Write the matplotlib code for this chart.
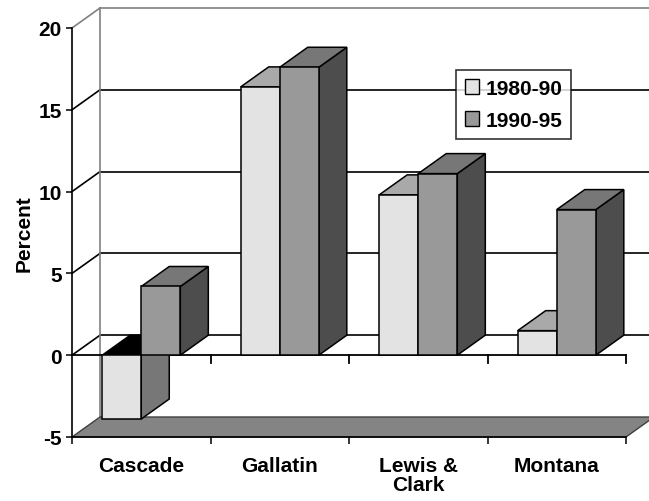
import matplotlib
matplotlib.use("Agg")
import matplotlib.pyplot as plt
from matplotlib.patches import Polygon, Rectangle, Patch

categories = ["Cascade", "Gallatin", "Lewis &\nClark", "Montana"]
series_names = ["1980-90", "1990-95"]
vals_8090 = [-3.9, 16.4, 9.8, 1.5]
vals_9095 = [4.2, 17.6, 11.1, 8.9]
yticks = [-5, 0, 5, 10, 15, 20]

plt.rcParams['font.family'] = ['Liberation Sans', 'DejaVu Sans']
plt.rcParams['font.weight'] = 'bold'
fs = 15

W, H = 649, 502
fig = plt.figure(figsize=(W / 100, H / 100), dpi=100)
# front plane of the plot: x 72..626 px, y 438..29 px
ax = fig.add_axes([72 / W, (H - 438) / H, 554 / W, 409 / H])
ax.set_xlim(0, len(categories))
ax.set_ylim(-5, 20)
ax.patch.set_visible(False)

# depth offset of the 3d box, in data units (28 px right, 20 px up)
dx = 28 / 138.5
dy = 20 / 16.36

# back wall gridlines and left wall diagonals
for v in yticks[1:]:
    c = '#808080' if v == 20 else 'black'
    ax.plot([dx, 4.3], [v + dy, v + dy], color=c, lw=1.2, zorder=1, clip_on=False)
    ax.plot([0, dx], [v, v + dy], color=c, lw=1.2, zorder=1, clip_on=False)
ax.plot([dx, dx], [-5 + dy, 20 + dy], color='#808080', lw=1.2, zorder=1, clip_on=False)

# floor at -5
floor = Polygon([(0, -5), (4, -5), (4 + dx, -5 + dy), (dx, -5 + dy)], closed=True,
                facecolor='#848484', edgecolor='#404040', lw=1.0, zorder=2, clip_on=False)
ax.add_patch(floor)

# category axis at 0
ax.plot([0, 4], [0, 0], color='black', lw=1.3, zorder=3, clip_on=False)
for i in range(1, 5):
    ax.plot([i, i], [0, -0.45], color='black', lw=1.3, zorder=3, clip_on=False)


def bar3d(x0, w, v, front, top, side, z):
    lo, hi = min(0, v), max(0, v)
    kw = dict(edgecolor='black', lw=1.1, joinstyle='miter', zorder=z, clip_on=False)
    ax.add_patch(Polygon([(x0 + w, lo), (x0 + w, hi), (x0 + w + dx, hi + dy), (x0 + w + dx, lo + dy)],
                         closed=True, facecolor=side, **kw))
    ax.add_patch(Polygon([(x0, hi), (x0 + w, hi), (x0 + w + dx, hi + dy), (x0 + dx, hi + dy)],
                         closed=True, facecolor=top if v >= 0 else 'black', **kw))
    ax.add_patch(Rectangle((x0, lo), w, hi - lo, facecolor=front, **kw))


bw = 0.282
gap = 0.218
for i in range(len(categories)):
    bar3d(i + gap, bw, vals_8090[i], '#e3e3e3', '#a9a9a9', '#777777', 4 + 2 * i)
    bar3d(i + gap + bw, bw, vals_9095[i], '#999999', '#777777', '#4d4d4d', 5 + 2 * i)

# axes
for s in ['top', 'right']:
    ax.spines[s].set_visible(False)
ax.spines['left'].set_linewidth(1.2)
ax.spines['bottom'].set_linewidth(1.2)
ax.set_yticks(yticks)
ax.set_yticklabels([str(t) for t in yticks], fontsize=fs, fontweight='bold')
ax.tick_params(axis='y', length=4.5, width=1.1, pad=3)
ax.set_xticks(range(5))
ax.set_xticklabels([''] * 5)
ax.tick_params(axis='x', which='major', length=5, width=1.1)
ax.set_xticks([i + 0.5 for i in range(4)], minor=True)
ax.set_xticklabels(categories, minor=True, fontsize=fs, fontweight='bold', linespacing=1.0)
ax.tick_params(axis='x', which='minor', length=0, pad=14)
ax.set_ylabel("Percent", fontsize=fs, fontweight='bold', labelpad=3)

handles = [Patch(facecolor='#e3e3e3', edgecolor='black', lw=1.0),
           Patch(facecolor='#999999', edgecolor='black', lw=1.0)]
leg = ax.legend(handles, series_names, loc='upper left', bbox_to_anchor=(0.693, 0.897),
                borderaxespad=0, fontsize=fs, frameon=True, fancybox=False,
                handlelength=0.7, handleheight=0.7, handletextpad=0.3,
                labelspacing=0.62, borderpad=0.42)
leg.get_frame().set_edgecolor('black')
leg.get_frame().set_linewidth(1.2)
leg.set_zorder(20)
for t in leg.get_texts():
    t.set_fontweight('bold')

fig.savefig("out.png", dpi=100, facecolor='white')
